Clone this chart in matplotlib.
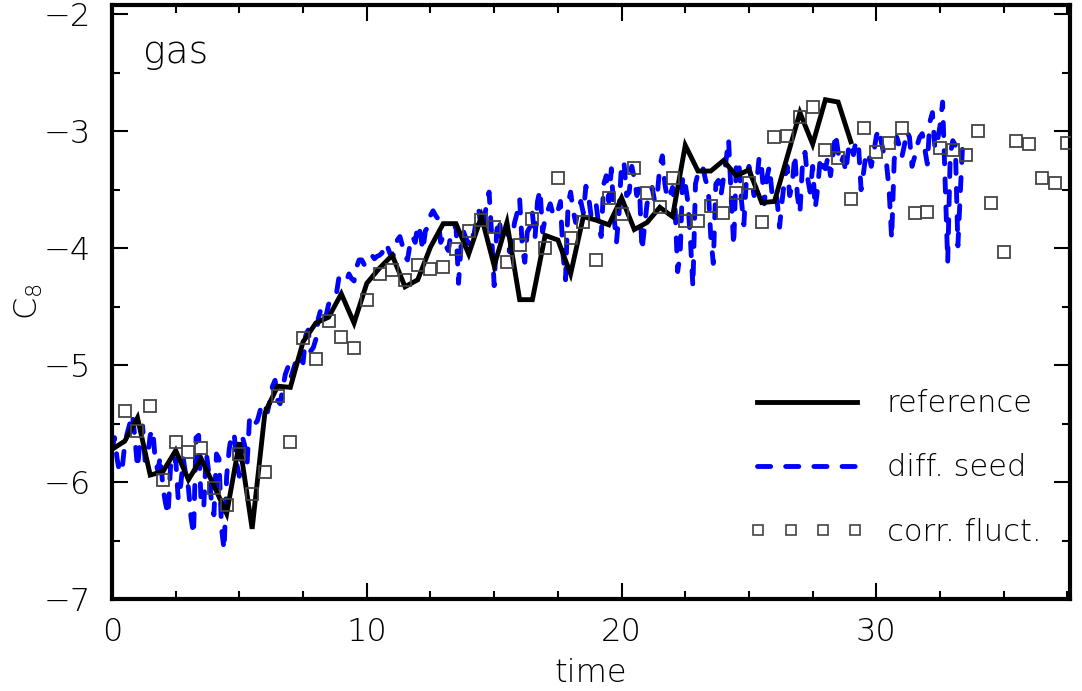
import matplotlib
matplotlib.use("Agg")
import matplotlib.pyplot as plt
from matplotlib.lines import Line2D
from matplotlib.legend_handler import HandlerLine2D
from matplotlib.ticker import MultipleLocator

# ---------------- data ----------------
ref_t = [0.0, 0.5, 1.0, 1.5, 2.0, 2.5, 3.0, 3.5, 4.0, 4.5, 5.0, 5.5, 6.0, 6.5, 7.0,
         7.5, 8.0, 8.5, 9.0, 9.5, 10.0, 10.5, 11.0, 11.5, 12.0, 12.5, 13.0, 13.5,
         14.0, 14.5, 15.0, 15.5, 16.0, 16.5, 17.0, 17.5, 18.0, 18.5, 19.0, 19.5,
         20.0, 20.5, 21.0, 21.5, 22.0, 22.5, 23.0, 23.5, 24.0, 24.5, 25.0, 25.5,
         26.0, 26.5, 27.0, 27.5, 28.0, 28.5, 29.0]
ref_v = [-5.72, -5.65, -5.45, -5.94, -5.91, -5.73, -5.98, -5.80, -6.03, -6.27,
         -5.66, -6.40, -5.41, -5.18, -5.19, -4.80, -4.64, -4.59, -4.39, -4.64,
         -4.30, -4.17, -4.06, -4.33, -4.27, -3.99, -3.79, -3.79, -4.05, -3.73,
         -4.15, -3.78, -4.44, -4.44, -3.89, -3.93, -4.22, -3.73, -3.76, -3.80,
         -3.57, -3.84, -3.78, -3.65, -3.73, -3.12, -3.34, -3.34, -3.25, -3.38,
         -3.33, -3.61, -3.60, -3.22, -2.84, -3.11, -2.73, -2.75, -3.09]

# "diff. seed" run, sampled every 0.1 time units starting at t = 0
seed_t0 = 0.0
seed_dt = 0.1
seed_v = [
    -5.72, -5.62, -5.80, -5.92, -5.88, -5.68, -5.58, -5.50, -5.42, -5.62,
    -5.88, -5.65, -5.52, -5.82, -5.78, -5.60, -5.55, -5.82, -5.90, -5.78,
    -6.05, -6.18, -6.28, -5.86, -5.90, -5.80, -6.15, -6.02, -5.80, -5.95,
    -6.05, -6.30, -6.45, -5.62, -5.60, -6.20, -6.22, -5.75, -5.92, -6.16,
    -6.28, -5.76, -5.80, -6.40, -6.58, -5.95, -5.72, -5.58, -5.60, -5.85,
    -5.95, -5.60, -5.68, -5.85, -5.45, -5.44, -5.50, -5.48, -5.40, -5.32,
    -5.35, -5.40, -5.30, -5.18, -5.13, -5.30, -5.33, -5.20, -5.08, -5.02,
    -5.12, -5.05, -4.98, -4.92, -4.95, -4.98, -4.75, -4.70, -4.88, -4.85,
    -4.78, -4.60, -4.52, -4.50, -4.58, -4.48, -4.45, -4.42, -4.40, -4.26,
    -4.24, -4.27, -4.28, -4.22, -4.26, -4.28, -4.16, -4.10, -4.10, -4.14,
    -4.12, -4.06, -4.06, -4.09, -4.07, -4.06, -4.04, -3.96, -3.98, -4.04,
    -4.08, -4.03, -3.93, -3.90, -3.98, -4.07, -4.10, -3.96, -3.90, -3.95,
    -3.80, -3.87, -4.02, -3.85, -3.82, -3.72, -3.68, -3.72, -3.75, -3.95,
    -3.90, -3.98, -4.02, -3.88, -3.85, -3.80, -4.30, -3.98, -3.86, -3.92,
    -3.96, -3.86, -3.90, -3.75, -3.68, -3.85, -3.78, -3.62, -3.52, -3.88,
    -4.32, -3.85, -3.75, -3.95, -3.88, -3.82, -4.03, -3.92, -3.78, -3.70,
    -3.58, -3.98, -4.12, -3.86, -3.82, -3.70, -3.92, -3.60, -3.50, -3.86,
    -3.75, -3.68, -3.62, -3.70, -3.73, -3.68, -3.60, -4.05, -4.27, -3.62,
    -3.52, -3.68, -3.78, -3.66, -3.60, -3.70, -3.47, -3.55, -3.72, -3.66,
    -3.62, -3.80, -3.90, -3.45, -3.38, -3.60, -3.32, -3.72, -3.95, -3.70,
    -3.26, -3.28, -3.55, -3.52, -3.30, -3.40, -3.55, -3.48, -4.02, -3.82,
    -3.62, -3.55, -3.48, -3.60, -3.55, -3.30, -3.21, -3.45, -3.58, -3.55,
    -3.48, -3.65, -4.20, -4.05, -3.38, -3.45, -3.60, -3.92, -4.33, -3.45,
    -3.36, -3.38, -3.32, -3.42, -3.48, -3.90, -4.13, -3.45, -3.42, -3.55,
    -3.40, -3.25, -3.07, -3.55, -3.98, -3.30, -3.25, -3.58, -3.80, -3.40,
    -3.30, -3.42, -3.55, -3.45, -3.22, -3.32, -3.62, -3.40, -3.30, -3.52,
    -3.48, -3.58, -3.82, -3.60, -3.40, -3.30, -3.55, -3.45, -3.20, -3.55,
    -3.70, -3.28, -3.18, -3.40, -3.52, -3.30, -3.66, -3.48, -3.22, -3.30,
    -3.32, -3.22, -3.38, -3.20, -3.02, -3.18, -3.28, -3.22, -3.35, -3.16,
    -3.10, -3.20, -3.08, -3.12, -3.50, -3.35, -3.18, -3.20, -3.30, -3.18,
    -3.04, -2.98, -3.10, -3.20, -3.28, -3.50, -3.92, -3.25, -3.05, -3.12,
    -3.22, -3.12, -3.00, -3.05, -3.30, -3.22, -3.12, -3.05, -3.02, -3.15,
    -3.28, -2.92, -2.84, -3.15, -3.08, -2.95, -2.75, -3.45, -4.12, -3.20,
    -3.08, -3.12, -3.98, -3.50, -3.05]
seed_t = [round(seed_t0 + i * seed_dt, 1) for i in range(len(seed_v))]

corr_t = [0.5, 1.0, 1.5, 2.0, 2.5, 3.0, 3.5, 4.0, 4.5, 5.0, 5.5, 6.0, 6.5, 7.0,
          7.5, 8.0, 8.5, 9.0, 9.5, 10.0, 10.5, 11.0, 11.5, 12.0, 12.5, 13.0,
          13.5, 14.0, 14.5, 15.0, 15.5, 16.0, 16.5, 17.0, 17.5, 18.0, 18.5, 19.0,
          19.5, 20.0, 20.5, 21.0, 21.5, 22.0, 22.5, 23.0, 23.5, 24.0, 24.5, 25.0,
          25.5, 26.0, 26.5, 27.0, 27.5, 28.0, 28.5, 29.0, 29.5, 30.0, 30.5, 31.0,
          31.5, 32.0, 32.5, 33.0, 33.5, 34.0, 34.5, 35.0, 35.5, 36.0, 36.5, 37.0,
          37.5]
corr_v = [-5.39, -5.56, -5.35, -5.98, -5.66, -5.74, -5.71, -6.05, -6.20, -5.76,
          -6.10, -5.91, -5.26, -5.66, -4.77, -4.95, -4.62, -4.76, -4.85, -4.44,
          -4.22, -4.19, -4.27, -4.14, -4.18, -4.16, -4.01, -3.85, -3.76, -3.82,
          -4.12, -3.97, -3.75, -4.00, -3.40, -3.91, -3.78, -4.10, -3.57, -3.71,
          -3.31, -3.53, -3.65, -3.40, -3.77, -3.77, -3.64, -3.70, -3.53, -3.44,
          -3.78, -3.05, -3.04, -2.88, -2.79, -3.16, -3.23, -3.58, -2.97, -3.18,
          -3.10, -2.97, -3.70, -3.69, -3.14, -3.16, -3.20, -3.00, -3.61, -4.03,
          -3.08, -3.11, -3.40, -3.44, -3.10]

x_ticks = [0, 10, 20, 30]
y_ticks = [-7, -6, -5, -4, -3, -2]
labels = ["reference", "diff. seed", "corr. fluct."]

# ---------------- figure ----------------
plt.rcParams['font.family'] = ['DejaVu Sans']
plt.rcParams['font.weight'] = 'light'
plt.rcParams['axes.labelweight'] = 'light'
plt.rcParams['mathtext.fontset'] = 'custom'
plt.rcParams['mathtext.rm'] = 'DejaVu Sans:light'
plt.rcParams['mathtext.it'] = 'DejaVu Sans:light'
plt.rcParams['mathtext.default'] = 'rm'

W, H = 1082, 691
fig = plt.figure(figsize=(W / 100, H / 100), dpi=100)
L, R, T, B = 112, 1070, 5, 599
ax = fig.add_axes([L / W, 1 - B / H, (R - L) / W, (B - T) / H])

LW = 3.5
DASH = (2.7, 3.1)
ax.plot(seed_t, seed_v, color='#0000ff', lw=LW, dashes=DASH,
        dash_capstyle='round', solid_capstyle='round', zorder=2)
ax.plot(ref_t, ref_v, color='black', lw=LW, solid_joinstyle='miter', zorder=3)
ax.plot(corr_t, corr_v, ls='none', marker='s', ms=9, mfc='none', mec='#444444',
        mew=1.3, zorder=4)

ax.set_xlim(0, 37.6)
ax.set_ylim(-7, -1.92)
ax.set_xticks(x_ticks)
ax.set_yticks(y_ticks)
ax.set_yticklabels(['\u2212%d' % abs(v) for v in y_ticks])
ax.xaxis.set_minor_locator(MultipleLocator(2.5))
ax.yaxis.set_minor_locator(MultipleLocator(0.5))
ax.tick_params(which='both', direction='in', top=True, right=True, width=1.5,
               color='black')
ax.tick_params(which='major', length=11.5, labelsize=23)
ax.tick_params(which='minor', length=5.8)
ax.tick_params(axis='x', which='major', pad=13)
ax.tick_params(axis='y', which='major', pad=15)
for sp in ax.spines.values():
    sp.set_linewidth(3)

ax.set_xlabel('time', fontsize=23, labelpad=8)
ax.set_ylabel('C$_8$', fontsize=23, labelpad=-1)

ax.text(0.032, 0.902, 'gas', transform=ax.transAxes, fontsize=27,
        va='baseline', ha='left')

h_ref = Line2D([], [], color='black', lw=LW)
h_seed = Line2D([], [], color='#0000ff', lw=LW, dashes=DASH,
                dash_capstyle='round')
h_corr = Line2D([], [], ls='none', marker='s', ms=7, mfc='none', mec='#444444',
                mew=1.2)
leg = ax.legend([h_ref, h_seed, h_corr], labels, loc='upper left',
                bbox_to_anchor=(0.673, 0.353), frameon=False, fontsize=22,
                handlelength=3.27, handletextpad=0.98, labelspacing=1.15,
                borderpad=0, borderaxespad=0, numpoints=1,
                handler_map={h_corr: HandlerLine2D(numpoints=4, marker_pad=0.05)})

fig.savefig('out.png', dpi=100)
